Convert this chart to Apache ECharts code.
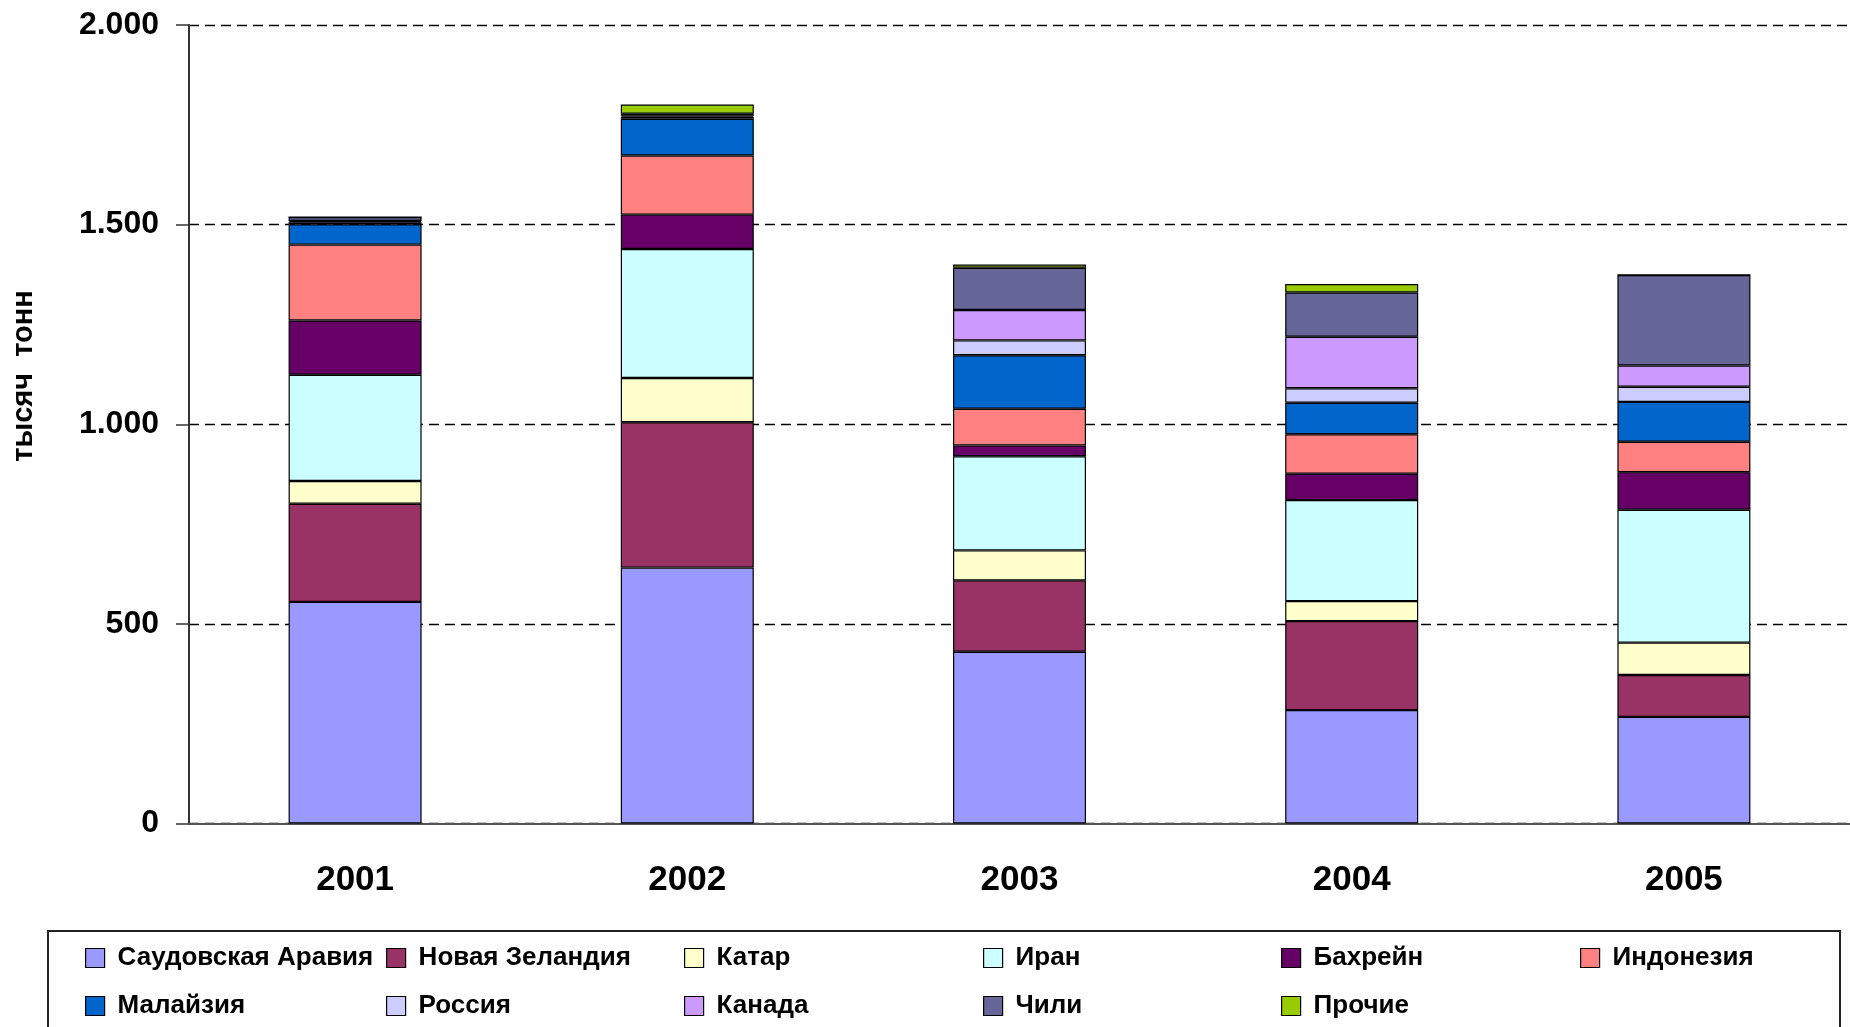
<!DOCTYPE html>
<html>
<head>
<meta charset="utf-8">
<script src="https://cdn.jsdelivr.net/npm/echarts@6/dist/echarts.min.js"></script>
<style>
  html, body { margin: 0; padding: 0; background: #fff; }
  #chart { width: 1850px; height: 1027px; }
</style>
</head>
<body>
<div id="chart"></div>
<script>
const years = ['2001', '2002', '2003', '2004', '2005']

// тыс. тонн, снизу вверх по стопке
const saudiArabia = [555, 641, 430, 284, 267]
const newZealand  = [246, 364, 179, 223, 105]
const qatar       = [57, 111, 75, 50, 81]
const iran        = [266, 323, 236, 253, 333]
const bahrain     = [136, 86, 27, 66, 94]
const indonesia   = [190, 148, 92, 99, 76]
const malaysia    = [51, 92, 134, 79, 100]
const russia      = [5, 5, 37, 36, 38]
const canada      = [3, 3, 76, 129, 53]
const chile       = [10, 5, 106, 111, 227]
const others      = [0, 23, 8, 21, 0]

const seriesList = [
  { name: 'Саудовская Аравия', data: saudiArabia, color: '#9999FF' },
  { name: 'Новая Зеландия', data: newZealand, color: '#993366' },
  { name: 'Катар', data: qatar, color: '#FFFFCC' },
  { name: 'Иран', data: iran, color: '#CCFFFF' },
  { name: 'Бахрейн', data: bahrain, color: '#660066' },
  { name: 'Индонезия', data: indonesia, color: '#FF8080' },
  { name: 'Малайзия', data: malaysia, color: '#0066CC' },
  { name: 'Россия', data: russia, color: '#CCCCFF' },
  { name: 'Канада', data: canada, color: '#CC99FF' },
  { name: 'Чили', data: chile, color: '#666699' },
  { name: 'Прочие', data: others, color: '#99CC00' }
]

// порядок в легенде (две строки по 6 колонок)
const legendOrder = [
  'Саудовская Аравия', 'Новая Зеландия', 'Катар', 'Иран', 'Бахрейн', 'Индонезия',
  'Малайзия', 'Россия', 'Канада', 'Чили', 'Прочие'
]
const legendCols = [85, 386, 684, 983, 1281, 1580]
const legendRows = [945, 993]

const chart = echarts.init(document.getElementById('chart'))

const legends = legendOrder.map((name, i) => ({
  data: [name],
  left: legendCols[i % 6],
  top: legendRows[Math.floor(i / 6)],
  padding: 0,
  itemWidth: 19,
  itemHeight: 19,
  icon: 'rect',
  selectedMode: false,
  itemStyle: { borderColor: '#000', borderWidth: 1.2 },
  textStyle: {
    fontFamily: 'Liberation Sans, Arial',
    fontWeight: 'bold',
    fontSize: 26,
    color: '#000',
    padding: [0, 0, 0, 8]
  }
}))

const option = {
  backgroundColor: '#fff',
  animation: false,
  grid: {
    left: 189,
    top: 25,
    width: 1670,
    height: 798.5
  },
  legend: legends,
  graphic: [
    {
      type: 'rect',
      shape: { x: 48, y: 931, width: 1792, height: 110 },
      style: { fill: 'none', stroke: '#222', lineWidth: 2 }
    },
    {
      type: 'text',
      x: 24,
      y: 376,
      rotation: Math.PI / 2,
      style: {
        text: 'тысяч  тонн',
        fontFamily: 'Liberation Sans, Arial',
        fontWeight: 'bold',
        fontSize: 29,
        fill: '#000',
        textAlign: 'center',
        textVerticalAlign: 'middle'
      }
    }
  ],
  xAxis: {
    type: 'category',
    data: years,
    axisLine: { lineStyle: { color: '#555', width: 2 } },
    axisTick: { length: 9, interval: 0, lineStyle: { color: '#333', width: 1.5 } },
    axisLabel: {
      margin: 39,
      color: '#000',
      fontFamily: 'Liberation Sans, Arial',
      fontWeight: 'bold',
      fontSize: 35
    }
  },
  yAxis: {
    type: 'value',
    min: 0,
    max: 2000,
    interval: 500,
    axisLine: { show: true, lineStyle: { color: '#333', width: 2 } },
    axisTick: { show: true, length: 13, lineStyle: { color: '#333', width: 1.5 } },
    axisLabel: {
      margin: 30,
      color: '#000',
      fontFamily: 'Liberation Sans, Arial',
      fontWeight: 'bold',
      fontSize: 32,
      formatter: (v) => String(v).replace(/\B(?=(\d{3})+(?!\d))/g, '.')
    },
    splitLine: {
      lineStyle: { color: '#000', width: 1.3, type: [10, 6] }
    }
  },
  series: seriesList.map(s => ({
    name: s.name,
    type: 'bar',
    stack: 'total',
    barWidth: 133,
    data: s.data,
    itemStyle: {
      color: s.color,
      borderColor: '#000',
      borderWidth: 1.2
    }
  }))
}

chart.setOption(option)
</script>
</body>
</html>
